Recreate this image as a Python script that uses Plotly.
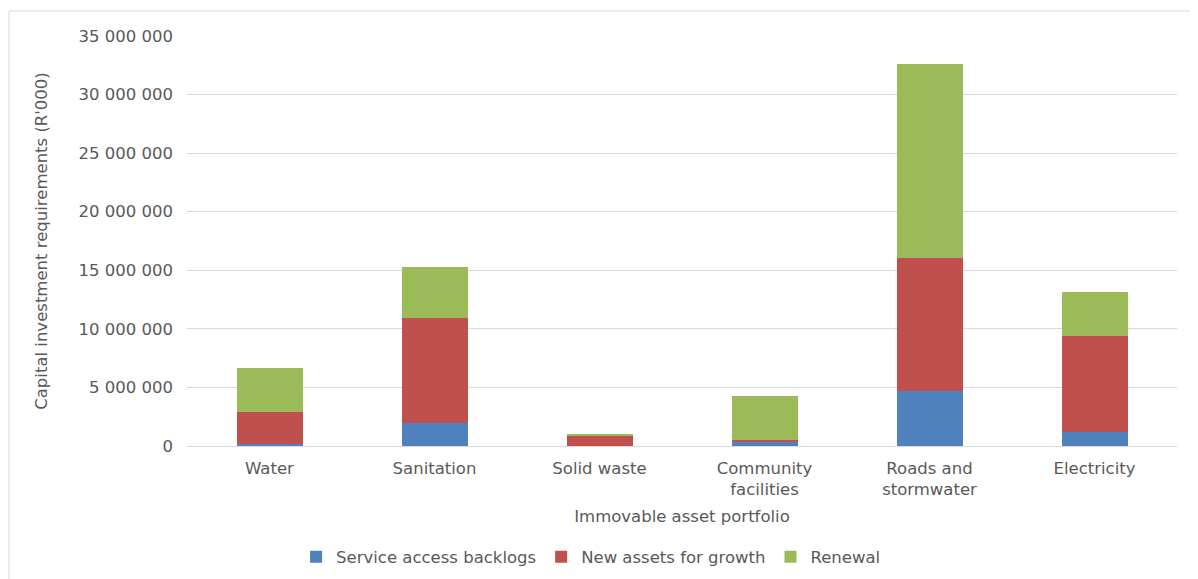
import plotly.graph_objects as go

categories = ["Water", "Sanitation", "Solid waste", "Community<br>facilities",
              "Roads and<br>stormwater", "Electricity"]
backlogs = [200000, 1960000, 40000, 370000, 4720000, 1170000]
growth = [2730000, 8970000, 880000, 140000, 11300000, 8220000]
renewal = [3700000, 4350000, 100000, 3790000, 16600000, 3760000]

series_names = ["Service access backlogs", "New assets for growth", "Renewal"]
colors = ["#4F81BD", "#C0504D", "#9BBB59"]

ytick_vals = [0, 5000000, 10000000, 15000000, 20000000, 25000000, 30000000, 35000000]

font = "DejaVu Sans, Verdana, sans-serif"
grey = "#595959"
fs = 16.5

fig = go.Figure()
for name, vals, c in zip(series_names, [backlogs, growth, renewal], colors):
    fig.add_trace(go.Bar(x=categories, y=vals, name=name, marker_color=c,
                         marker_line_width=0))

fig.update_layout(
    width=1190, height=571,
    barmode="stack", bargap=0.6,
    paper_bgcolor="white", plot_bgcolor="white",
    margin=dict(l=179, r=21, t=28, b=133),
    separators=". ",
    font=dict(family=font, size=fs, color=grey),
    legend=dict(orientation="h", xref="container", yref="container",
                x=0.49, xanchor="center", y=0.008, yanchor="bottom",
                font=dict(size=fs, color=grey), traceorder="normal",
                itemwidth=30),
    xaxis=dict(title=dict(text="Immovable asset portfolio", standoff=12,
                          font=dict(size=fs, color=grey)),
               tickfont=dict(size=fs, color=grey), showgrid=False,
               showline=False, ticklabelstandoff=10),
    yaxis=dict(title=dict(text="Capital investment requirements (R'000)",
                          font=dict(size=fs, color=grey), standoff=26),
               range=[0, 35000000], tickvals=ytick_vals, tickformat=",d",
               tickfont=dict(size=fs, color=grey),
               gridcolor="#d9d9d9", gridwidth=1, zeroline=True,
               zerolinecolor="#d9d9d9", zerolinewidth=1,
               ticklabelstandoff=13),
    shapes=[
        dict(type="line", xref="paper", yref="paper", x0=-0.1798, x1=1.1,
             y0=1.061, y1=1.061, line=dict(color="#d9d9d9", width=1)),
        dict(type="line", xref="paper", yref="paper", x0=-0.1798, x1=-0.1798,
             y0=1.061, y1=-0.4, line=dict(color="#d9d9d9", width=1)),
    ],
)

fig.write_html("out.html")
